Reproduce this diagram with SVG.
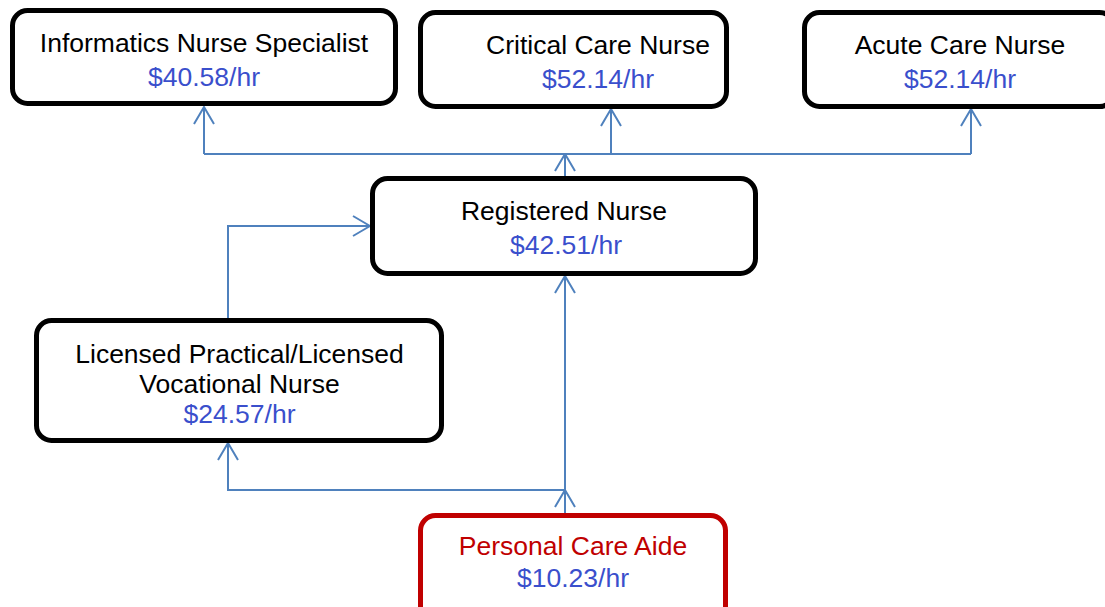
<svg xmlns="http://www.w3.org/2000/svg" width="1105" height="607" viewBox="0 0 1105 607">
<defs>
<style>
.box{fill:#fff;stroke:#000;stroke-width:5}
.red{fill:#fff;stroke:#C00000;stroke-width:5}
.t{font-family:"Liberation Sans",Arial,sans-serif;font-size:26.5px;fill:#000;text-anchor:middle}
.p{fill:#3A4FCC}
.r{fill:#C00000}
.c{fill:none;stroke:#4F81BD;stroke-width:2}
</style>
<marker id="ah" viewBox="0 0 20 24" refX="19" refY="12" markerWidth="20" markerHeight="24" markerUnits="userSpaceOnUse" orient="auto">
<path d="M2,2 L19,12 L2,22" fill="none" stroke="#4F81BD" stroke-width="2"/>
</marker>
</defs>
<g id="connectors">
<path class="c" d="M565,178 V154" marker-end="url(#ah)"/>
<path class="c" d="M204,154 H971"/>
<path class="c" d="M204,154 V107" marker-end="url(#ah)"/>
<path class="c" d="M611,154 V109" marker-end="url(#ah)"/>
<path class="c" d="M971,154 V109" marker-end="url(#ah)"/>
<path class="c" d="M228,319 V226 H370" marker-end="url(#ah)"/>
<path class="c" d="M565,514 V490" marker-end="url(#ah)"/>
<path class="c" d="M565,490 V276" marker-end="url(#ah)"/>
<path class="c" d="M565,490 H228 V443" marker-end="url(#ah)"/>
</g>
<g id="informatics">
<rect class="box" x="12.5" y="10.5" width="383" height="93" rx="15"/>
<text class="t" x="204" y="52">Informatics Nurse Specialist</text>
<text class="t p" x="204" y="86">$40.58/hr</text>
</g>
<g id="critical">
<rect class="box" x="420.5" y="12.5" width="306" height="94" rx="15"/>
<text class="t" x="598" y="54">Critical Care Nurse</text>
<text class="t p" x="598" y="88">$52.14/hr</text>
</g>
<g id="acute">
<rect class="box" x="804.5" y="12.5" width="310" height="94" rx="15"/>
<text class="t" x="960" y="54">Acute Care Nurse</text>
<text class="t p" x="960" y="88">$52.14/hr</text>
</g>
<g id="registered">
<rect class="box" x="372.5" y="178.5" width="383" height="95" rx="15"/>
<text class="t" x="564" y="220">Registered Nurse</text>
<text class="t p" x="566" y="254">$42.51/hr</text>
</g>
<g id="lpn">
<rect class="box" x="36.5" y="320.5" width="405" height="120" rx="15"/>
<text class="t" x="239.5" y="363">Licensed Practical/Licensed</text>
<text class="t" x="239.5" y="393">Vocational Nurse</text>
<text class="t p" x="239.5" y="423">$24.57/hr</text>
</g>
<g id="pca">
<rect class="red" x="420.5" y="515.5" width="305" height="110" rx="15"/>
<text class="t r" x="573" y="555">Personal Care Aide</text>
<text class="t p" x="573" y="587">$10.23/hr</text>
</g>
</svg>
